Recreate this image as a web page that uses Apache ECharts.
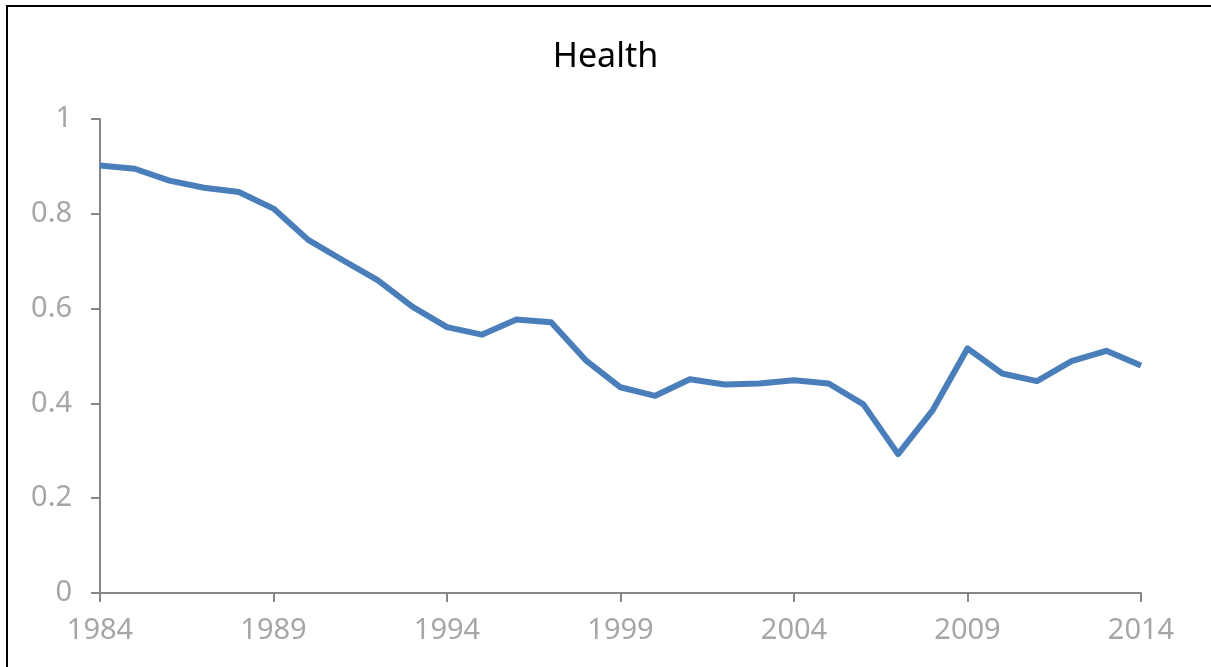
<!DOCTYPE html>
<html>
<head>
<meta charset="utf-8">
<title>Health</title>
<script src="https://cdn.jsdelivr.net/npm/echarts@6/dist/echarts.min.js"></script>
<style>
  html, body { margin: 0; padding: 0; background: #fff; }
  #chart { width: 1211px; height: 667px; }
</style>
</head>
<body>
<div id="chart"></div>
<script>
// years on the x axis, one point per year
var years = [];
for (var y = 1984; y <= 2014; y++) years.push(String(y));

// values
var health = [
  0.902, 0.895, 0.870, 0.855, 0.846, 0.811, 0.745, 0.702, 0.660, 0.604,
  0.561, 0.545, 0.577, 0.571, 0.491, 0.434, 0.416, 0.451, 0.440, 0.442,
  0.449, 0.442, 0.398, 0.293, 0.386, 0.516, 0.463, 0.447, 0.489, 0.511,
  0.480
];

var yTicks = [0, 0.2, 0.4, 0.6, 0.8, 1];

var myChart = echarts.init(document.getElementById('chart'));

var axisGray = '#868686';
var labelGray = '#a6a6a6';

var option = {
  animation: false,
  backgroundColor: '#fff',
  textStyle: { fontFamily: 'Noto Sans' },
  title: {
    text: 'Health',
    left: 'center',
    top: 35,
    textStyle: { color: '#000', fontSize: 34, fontWeight: 'normal', fontFamily: 'Noto Sans' }
  },
  graphic: [{
    type: 'rect',
    shape: { x: 7, y: 6, width: 1300, height: 800 },
    style: { fill: 'none', stroke: '#000', lineWidth: 2 },
    silent: true
  }],
  grid: { left: 100, right: 70, top: 119, bottom: 74 },
  xAxis: {
    type: 'category',
    data: years,
    boundaryGap: false,
    axisLine: { lineStyle: { color: axisGray, width: 2 } },
    axisTick: { interval: 4, length: 9, lineStyle: { color: axisGray, width: 2 } },
    axisLabel: { interval: 4, color: labelGray, fontSize: 29, margin: 23 }
  },
  yAxis: {
    type: 'value',
    min: yTicks[0],
    max: yTicks[yTicks.length - 1],
    interval: 0.2,
    splitLine: { show: false },
    axisLine: { show: true, lineStyle: { color: axisGray, width: 2 } },
    axisTick: { show: true, length: 9, lineStyle: { color: axisGray, width: 2 } },
    axisLabel: {
      color: labelGray, fontSize: 29, margin: 28,
      formatter: function (v) { return String(Math.round(v * 10) / 10); }
    }
  },
  series: [{
    type: 'line',
    data: health,
    showSymbol: false,
    lineStyle: { color: '#4a7ebb', width: 6, join: 'round' },
    itemStyle: { color: '#4a7ebb' }
  }]
};

myChart.setOption(option);
</script>
</body>
</html>
